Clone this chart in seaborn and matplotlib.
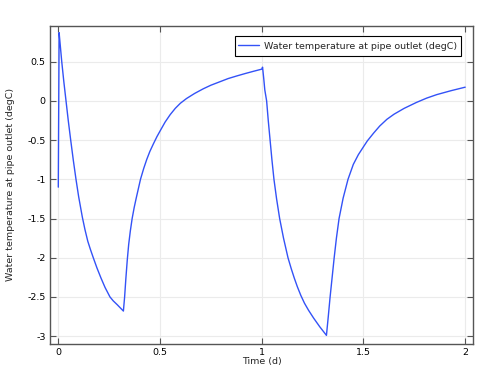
import matplotlib
matplotlib.use("Agg")
import matplotlib.pyplot as plt
import seaborn as sns
import pandas as pd

# Time (d) and water temperature at pipe outlet (degC)
time_d = [0.0, 0.004, 0.010, 0.017, 0.027, 0.038, 0.049, 0.061, 0.074, 0.087, 0.100, 0.118, 0.131,
          0.145, 0.158, 0.172, 0.19, 0.21, 0.23, 0.254, 0.27, 0.29, 0.305, 0.320,
          0.326, 0.332, 0.339, 0.346, 0.354, 0.363, 0.373, 0.383, 0.404, 0.42, 0.435, 0.45, 0.467, 0.485, 0.5,
          0.525, 0.55, 0.575, 0.6, 0.63, 0.67, 0.713, 0.75, 0.795, 0.835, 0.877, 0.92, 0.96, 1.0, 1.004,
          1.010, 1.015, 1.024, 1.032, 1.041, 1.050, 1.060, 1.073, 1.088, 1.107, 1.129, 1.145, 1.16,
          1.175, 1.192, 1.21, 1.23, 1.255, 1.285, 1.318,
          1.327, 1.336, 1.346, 1.356, 1.367, 1.380, 1.40, 1.424, 1.45, 1.475, 1.5, 1.519, 1.55, 1.58,
          1.615, 1.65, 1.70, 1.76, 1.81, 1.86, 1.93, 2.0]
temp_degC = [-1.1, 0.87, 0.70, 0.50, 0.25, 0.0, -0.25, -0.50, -0.76, -1.00, -1.22, -1.48, -1.64,
             -1.79, -1.895, -2.00, -2.13, -2.26, -2.38, -2.50, -2.55, -2.60, -2.64, -2.68,
             -2.50, -2.27, -2.03, -1.83, -1.66, -1.50, -1.36, -1.24, -1.00, -0.86, -0.745, -0.645, -0.55, -0.455, -0.385,
             -0.27, -0.175, -0.095, -0.03, 0.03, 0.095, 0.155, 0.20, 0.245, 0.285, 0.318, 0.35, 0.378, 0.405, 0.43,
             0.28, 0.14, 0.0, -0.25, -0.50, -0.75, -1.00, -1.25, -1.50, -1.75, -2.00, -2.14, -2.26,
             -2.37, -2.48, -2.58, -2.67, -2.77, -2.88, -2.99,
             -2.75, -2.50, -2.25, -2.00, -1.75, -1.50, -1.24, -1.00, -0.81, -0.685, -0.585, -0.51, -0.41, -0.32,
             -0.235, -0.17, -0.095, -0.02, 0.035, 0.08, 0.13, 0.175]

x_ticks = [0, 0.5, 1, 1.5, 2]
x_tick_labels = ["0", "0.5", "1", "1.5", "2"]
y_ticks = [-3, -2.5, -2, -1.5, -1, -0.5, 0, 0.5]
y_tick_labels = ["-3", "-2.5", "-2", "-1.5", "-1", "-0.5", "0", "0.5"]

series_name = "Water temperature at pipe outlet (degC)"

df = pd.DataFrame({"Time (d)": time_d, "T": temp_degC})

sns.set_theme(style="whitegrid")
plt.rcParams["font.family"] = ["DejaVu Sans"]
plt.rcParams["axes.unicode_minus"] = False

FS = 6.8

fig = plt.figure(figsize=(4.83, 3.78), dpi=100)
ax = fig.add_axes([0.1035, 0.090, 0.8765, 0.842])

sns.lineplot(data=df, x="Time (d)", y="T", ax=ax, color="#3352f7", linewidth=1.0,
             label=series_name, sort=False, estimator=None)

ax.set_xlim(-0.0408, 2.040)
ax.set_ylim(-3.10, 0.959)
ax.set_xticks(x_ticks)
ax.set_xticklabels(x_tick_labels)
ax.set_yticks(y_ticks)
ax.set_yticklabels(y_tick_labels)

ax.grid(True, color="#ebebeb", linewidth=0.8)
for s in ax.spines.values():
    s.set_color("#555555")
    s.set_linewidth(1.0)
    s.set_visible(True)

ax.tick_params(axis="both", which="major", direction="in", length=4, width=0.8,
               color="#555555", labelsize=FS, labelcolor="black",
               top=True, right=True, bottom=True, left=True, pad=3)

ax.set_xlabel("Time (d)", fontsize=FS, labelpad=0)
ax.set_ylabel(series_name, fontsize=FS, labelpad=9)

leg = ax.legend(loc="upper right", bbox_to_anchor=(0.9703, 0.9676), fontsize=FS,
                frameon=True, fancybox=False, edgecolor="black", framealpha=1,
                shadow=False, borderaxespad=0.0, handlelength=2.2, handletextpad=0.5,
                handleheight=1.7, borderpad=0.4)
leg.get_frame().set_linewidth(0.8)

fig.savefig("out.png", dpi=100)
